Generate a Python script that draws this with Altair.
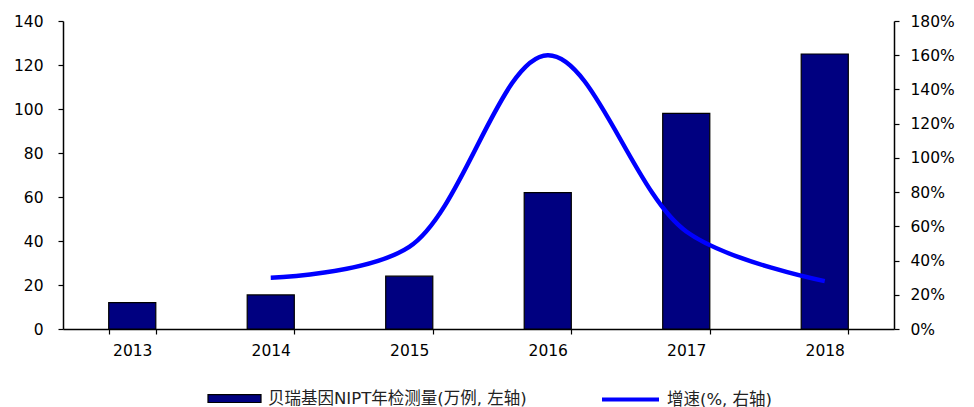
import altair as alt
import pandas as pd

# Annual NIPT test volume (10k cases) and year-on-year growth (%)
years = ["2013", "2014", "2015", "2016", "2017", "2018"]
volume = [12, 15.5, 24, 62, 98, 125]
growth = [None, 30, 48, 160, 57, 28]
y_left_ticks = [0, 20, 40, 60, 80, 100, 120, 140]
y_right_ticks = [0, 20, 40, 60, 80, 100, 120, 140, 160, 180]

bar_name = "贝瑞基因NIPT年检测量(万例, 左轴)"
line_name = "增速(%, 右轴)"

df = pd.DataFrame({
    "year": years,
    "volume": volume,
    "growth": growth,
    "bar_name": [bar_name] * len(years),
    "line_name": [line_name] * len(years),
})

FONT = "DejaVu Sans, Noto Sans CJK SC"
AX_SIZE = 15.5
LEG_SIZE = 16.5

x_enc = alt.X(
    "year:N",
    sort=years,
    scale=alt.Scale(paddingInner=0.66, paddingOuter=0.33),
    axis=alt.Axis(
        title=None, labelAngle=0, tickBand="extent", tickSize=5,
        labelPadding=9, labelFontSize=AX_SIZE, labelFont=FONT, labelColor="black",
        domainColor="black", domainWidth=1.5, tickColor="black", tickWidth=1.2,
    ),
)

bars = alt.Chart(df).mark_bar(stroke="black", strokeWidth=1.2).encode(
    x=x_enc,
    y=alt.Y(
        "volume:Q",
        scale=alt.Scale(domain=[0, 140], nice=False),
        axis=alt.Axis(
            title=None, values=y_left_ticks, grid=False, tickSize=5,
            labelPadding=15, labelFontSize=AX_SIZE, labelFont=FONT, labelColor="black",
            domainColor="black", domainWidth=1.5, tickColor="black", tickWidth=1.2,
        ),
    ),
    fill=alt.Fill(
        "bar_name:N",
        scale=alt.Scale(range=["#000080"]),
        legend=alt.Legend(
            title=None, orient="none", legendX=144, legendY=350, padding=0,
            symbolType="M-1,-0.15H1V0.15H-1Z", symbolSize=2809,
            symbolStrokeColor="black", symbolStrokeWidth=1.2, labelLimit=0,
            labelFontSize=LEG_SIZE, labelFont=FONT, labelColor="#222222", labelOffset=6,
        ),
    ),
)

line = alt.Chart(df).transform_filter("datum.growth != null").mark_line(
    interpolate="catmull-rom", strokeWidth=4.5
).encode(
    x=alt.X("year:N", sort=years),
    y=alt.Y(
        "growth:Q",
        scale=alt.Scale(domain=[0, 180], nice=False),
        axis=alt.Axis(
            title=None, orient="right", values=y_right_ticks, grid=False,
            tickSize=5, labelPadding=11, labelFontSize=AX_SIZE, labelFont=FONT,
            labelColor="black", labelExpr="datum.value + '%'",
            domainColor="black", domainWidth=1.5, tickColor="black", tickWidth=1.2,
        ),
    ),
    stroke=alt.Stroke(
        "line_name:N",
        scale=alt.Scale(range=["#0000FF"]),
        legend=alt.Legend(
            title=None, orient="none", legendX=537, legendY=348, padding=0,
            symbolType="stroke", symbolSize=3249, symbolStrokeWidth=4, labelLimit=0,
            labelFontSize=LEG_SIZE, labelFont=FONT, labelColor="#222222", labelOffset=6,
        ),
    ),
)

chart = (
    alt.layer(bars, line)
    .resolve_scale(y="independent", fill="independent", stroke="independent")
    .properties(
        width=831, height=308,
        autosize=alt.AutoSizeParams(type="none"),
        padding={"left": 63, "top": 21, "right": 80, "bottom": 78},
        background="white",
    )
    .configure_view(stroke=None)
)

chart.save("out.html", embed_options={"renderer": "svg", "actions": False})
